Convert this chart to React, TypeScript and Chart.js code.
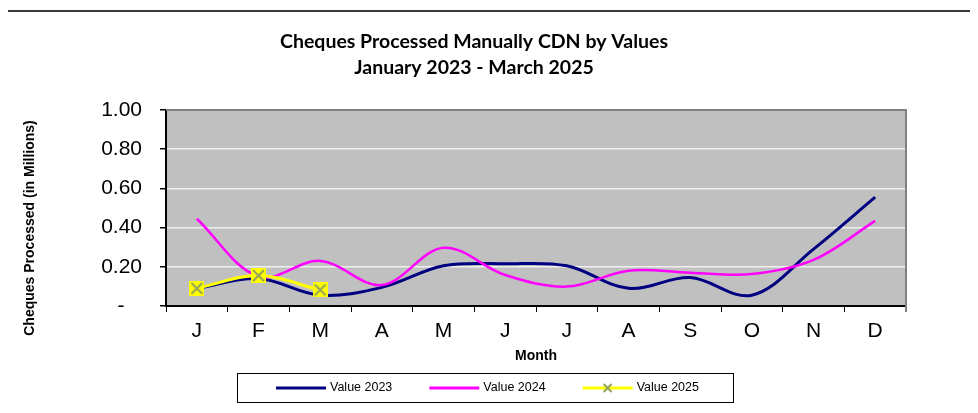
import React, { useEffect, useRef } from "react";
import { Chart, registerables } from "chart.js";

Chart.register(...registerables);

const months = ["J", "F", "M", "A", "M", "J", "J", "A", "S", "O", "N", "D"];
const value2023 = [0.09, 0.14, 0.055, 0.095, 0.205, 0.215, 0.205, 0.09, 0.145, 0.055, 0.29, 0.555];
const value2024 = [0.445, 0.15, 0.23, 0.107, 0.297, 0.158, 0.099, 0.18, 0.17, 0.163, 0.235, 0.434];
const value2025 = [0.09, 0.155, 0.082];
const seriesLabels = ["Value 2023", "Value 2024", "Value 2025"];
const seriesColors = ["#000080", "#FF00FF", "#FFFF00"];
const yTickValues = [0, 0.2, 0.4, 0.6, 0.8, 1.0];
const titleLines = ["Cheques Processed Manually CDN by Values", "January 2023 - March 2025"];
const yTitleText = "Cheques Processed (in Millions)";
const xTitleText = "Month";

const MARKER_X = "#94A35C";
const FONT = "'Liberation Sans', Arial, sans-serif";

function makeMarker(size: number) {
  const c = document.createElement("canvas");
  c.width = size;
  c.height = size;
  const g = c.getContext("2d")!;
  g.fillStyle = "#FFFF00";
  g.fillRect(0, 0, size, size);
  g.strokeStyle = MARKER_X;
  g.lineWidth = 2;
  g.beginPath();
  g.moveTo(2, 2);
  g.lineTo(size - 2, size - 2);
  g.moveTo(size - 2, 2);
  g.lineTo(2, size - 2);
  g.stroke();
  return c;
}

const plotBg = {
  id: "plotBg",
  beforeDraw(chart: any) {
    const { ctx, chartArea: a } = chart;
    ctx.save();
    ctx.fillStyle = "#C0C0C0";
    ctx.fillRect(a.left, a.top, a.right - a.left, a.bottom - a.top);
    ctx.restore();
  },
};

const plotFrame = {
  id: "plotFrame",
  beforeDatasetsDraw(chart: any) {
    const { ctx, chartArea: a } = chart;
    ctx.save();
    ctx.strokeStyle = "#808080";
    ctx.lineWidth = 2;
    ctx.beginPath();
    ctx.moveTo(a.left, a.top);
    ctx.lineTo(a.right, a.top);
    ctx.lineTo(a.right, a.bottom + 6);
    ctx.stroke();
    ctx.restore();
  },
};

const yTitlePlugin = {
  id: "yTitlePlugin",
  afterDraw(chart: any) {
    const { ctx } = chart;
    ctx.save();
    ctx.translate(22, 220);
    ctx.rotate(-Math.PI / 2);
    ctx.font = `bold 14px ${FONT}`;
    ctx.fillStyle = "#000";
    ctx.textAlign = "center";
    ctx.textBaseline = "middle";
    ctx.fillText(yTitleText, 0, 0);
    ctx.restore();
  },
};

const boxLegend = {
  id: "boxLegend",
  afterDraw(chart: any) {
    const { ctx } = chart;
    const left = 229, top = 365, w = 496, h = 29;
    ctx.save();
    ctx.strokeStyle = "#000";
    ctx.lineWidth = 1;
    ctx.strokeRect(left + 0.5, top + 0.5, w, h);
    ctx.font = `12.5px ${FONT}`;
    ctx.textAlign = "left";
    ctx.textBaseline = "middle";
    const cy = top + h / 2 + 0.5;
    let x = left + 39;
    chart.data.datasets.forEach((ds: any, i: number) => {
      ctx.strokeStyle = ds.borderColor;
      ctx.lineWidth = 3;
      ctx.beginPath();
      ctx.moveTo(x, cy);
      ctx.lineTo(x + 50, cy);
      ctx.stroke();
      if (i === 2) {
        ctx.strokeStyle = MARKER_X;
        ctx.lineWidth = 2;
        ctx.beginPath();
        ctx.moveTo(x + 21, cy - 4);
        ctx.lineTo(x + 29, cy + 4);
        ctx.moveTo(x + 29, cy - 4);
        ctx.lineTo(x + 21, cy + 4);
        ctx.stroke();
      }
      ctx.fillStyle = "#000";
      ctx.fillText(ds.label, x + 54, cy);
      x += 54 + ctx.measureText(ds.label).width + 37;
    });
    ctx.restore();
  },
};

export default function App() {
  const ref = useRef<HTMLCanvasElement>(null);

  useEffect(() => {
    const canvas = ref.current;
    if (!canvas) return;
    const marker = makeMarker(15);
    const chart = new Chart(canvas, {
      type: "line",
      data: {
        labels: months,
        datasets: [
          {
            label: seriesLabels[0],
            data: value2023,
            borderColor: seriesColors[0],
            backgroundColor: seriesColors[0],
            borderWidth: 3,
            pointRadius: 0,
            tension: 0.35,
            order: 2,
          },
          {
            label: seriesLabels[1],
            data: value2024,
            borderColor: seriesColors[1],
            backgroundColor: seriesColors[1],
            borderWidth: 2.5,
            pointRadius: 0,
            tension: 0.35,
            order: 1,
          },
          {
            label: seriesLabels[2],
            data: value2025,
            borderColor: seriesColors[2],
            backgroundColor: seriesColors[2],
            borderWidth: 3,
            pointStyle: marker as any,
            pointRadius: 7,
            tension: 0.35,
            order: 0,
          },
        ],
      },
      options: {
        responsive: false,
        animation: false,
        devicePixelRatio: 1,
        layout: { padding: { left: 34, right: 72, top: 0, bottom: 37 } },
        plugins: {
          legend: { display: false },
          tooltip: { enabled: false },
          title: {
            display: true,
            text: titleLines,
            color: "#000",
            font: { family: "Lato", weight: "bold", size: 19.5, lineHeight: 1.333 },
            padding: { top: 21, bottom: 29 },
          },
        },
        scales: {
          x: {
            offset: true,
            grid: {
              offset: true,
              drawOnChartArea: false,
              drawTicks: true,
              tickLength: 6,
              tickColor: "#000",
              color: "#000",
            },
            border: { display: true, color: "#000", width: 2 },
            ticks: {
              color: "#000",
              font: { family: FONT, size: 21 },
              padding: 7,
              maxRotation: 0,
              autoSkip: false,
            },
            title: {
              display: true,
              text: xTitleText,
              color: "#000",
              font: { family: FONT, size: 14, weight: "bold", lineHeight: 1.2 },
              padding: { top: 0, bottom: 11.8 },
            },
            afterFit: (s: any) => {
              s.height = 70;
            },
          },
          y: {
            min: 0,
            max: 1,
            afterBuildTicks: (s: any) => {
              s.ticks = yTickValues.map((v) => ({ value: v }));
            },
            ticks: {
              color: "#000",
              font: { family: FONT, size: 21 },
              padding: 18,
              callback: (v: any) => (Number(v) === 0 ? "-   " : Number(v).toFixed(2)),
            },
            grid: {
              color: (c: any) => (c.tick && c.tick.value === 1 ? "#808080" : "#F0F0F0"),
              tickColor: "#000",
              tickLength: 6,
              lineWidth: 1.5,
            },
            border: { display: true, color: "#000", width: 2 },
            afterFit: (s: any) => {
              s.width = 124;
            },
          },
        },
      },
      plugins: [plotBg, plotFrame, yTitlePlugin, boxLegend],
    } as any);
    return () => chart.destroy();
  }, []);

  return (
    <div style={{ position: "relative", width: 970, height: 405 }}>
      <div
        style={{
          position: "absolute",
          left: -2,
          top: 2,
          width: 972,
          height: 403,
          borderTop: "2px solid #3a3a3a",
          borderLeft: "2px solid #3a3a3a",
          boxSizing: "border-box",
        }}
      />
      <canvas
        ref={ref}
        width={970}
        height={405}
        style={{ position: "absolute", left: 0, top: 0, width: 970, height: 405 }}
      />
    </div>
  );
}
